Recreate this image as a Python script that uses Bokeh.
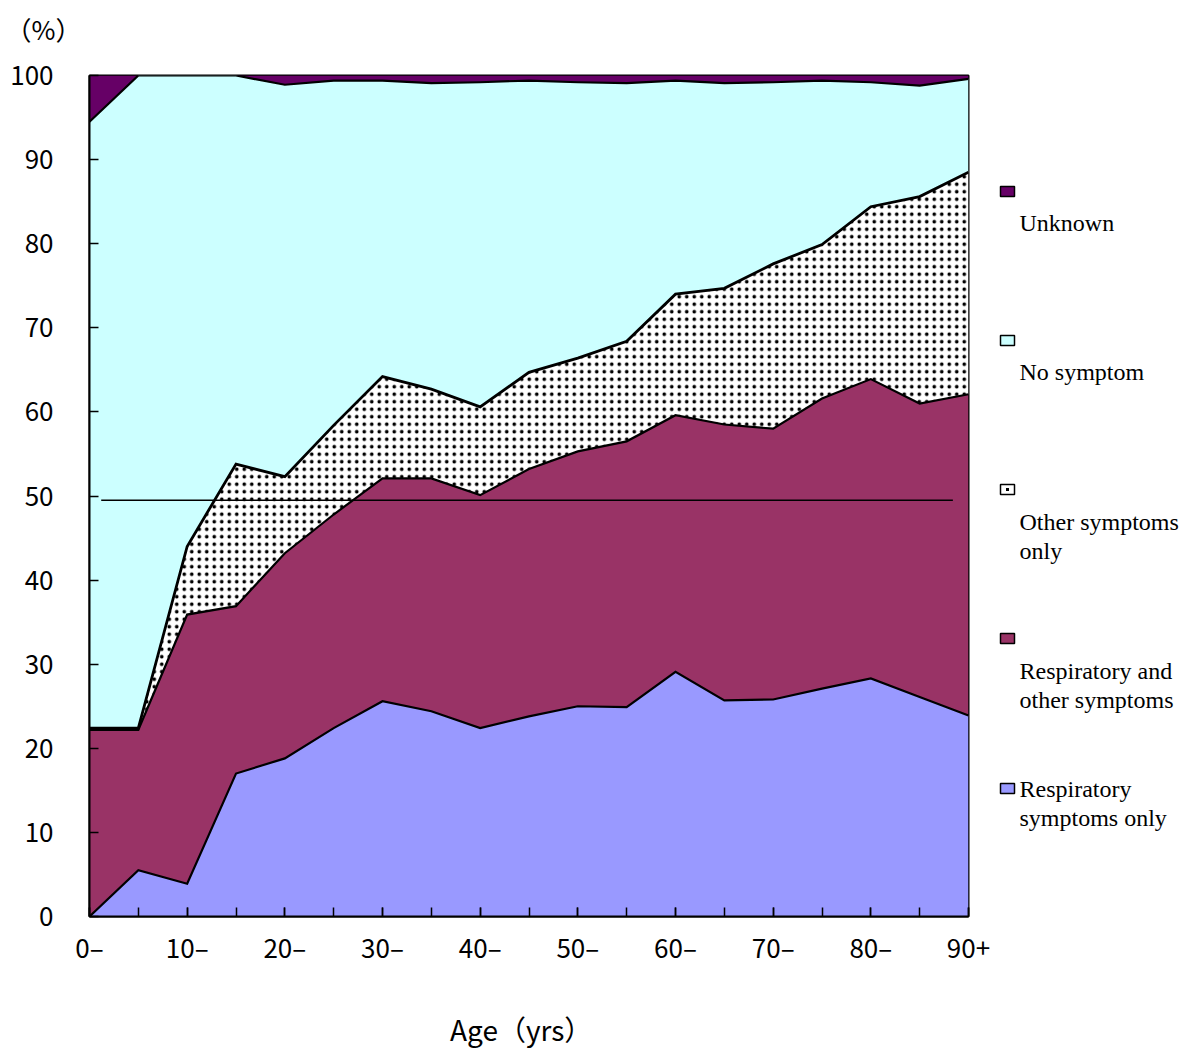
import numpy as np
from bokeh.plotting import figure
from bokeh.models import Range1d, FixedTicker, Title
from bokeh.layouts import row, column
from bokeh.embed import file_html
from bokeh.resources import INLINE
from bokeh.core.properties import value

# ---------------- data ----------------
ages = [0, 5, 10, 15, 20, 25, 30, 35, 40, 45, 50, 55, 60, 65, 70, 75, 80, 85, 90]
resp_only = [0.0, 5.5, 3.9, 17.0, 18.8, 22.4, 25.6, 24.4, 22.4, 23.8, 25.0, 24.9, 29.1, 25.7, 25.8, 27.1, 28.3, 26.1, 23.9]
resp_other = [22.2, 16.7, 32.0, 19.9, 24.4, 25.4, 26.5, 27.7, 27.7, 29.4, 30.3, 31.6, 30.5, 32.8, 32.2, 34.5, 35.6, 34.9, 38.2]
other_only = [0.2, 0.2, 8.1, 16.9, 9.1, 10.6, 12.1, 10.6, 10.5, 11.5, 11.1, 11.9, 14.4, 16.2, 19.6, 18.3, 20.5, 24.6, 26.4]
no_symptom = [72.1, 77.6, 56.0, 46.2, 46.6, 41.0, 35.2, 36.4, 38.6, 34.7, 32.8, 30.7, 25.4, 24.4, 21.6, 19.5, 14.8, 13.2, 11.1]
unknown = [5.5, 0.0, 0.0, 0.0, 1.1, 0.6, 0.6, 0.9, 0.8, 0.6, 0.8, 0.9, 0.6, 0.9, 0.8, 0.6, 0.8, 1.2, 0.4]

series_names = ["Respiratory symptoms only", "Respiratory and other symptoms",
                "Other symptoms only", "No symptom", "Unknown"]
series_colors = ["#9999FF", "#993366", "#FFFFFF", "#CCFFFF", "#660066"]

x_tick_values = [0, 10, 20, 30, 40, 50, 60, 70, 80, 90]
x_tick_labels = ["0–", "10–", "20–", "30–", "40–", "50–", "60–", "70–", "80–", "90+"]
x_minor_ticks = [0, 5, 10, 15, 20, 25, 30, 35, 40, 45, 50, 55, 60, 65, 70, 75, 80, 85, 90]
y_tick_values = [0, 10, 20, 30, 40, 50, 60, 70, 80, 90, 100]

ref_line_x = [1.2, 88.4]
ref_line_y = [49.5, 49.5]

y_unit_text = "（%）"
x_title_text = "Age（yrs）"
legend_labels = [["Unknown"], ["No symptom"], ["Other symptoms", "only"],
                 ["Respiratory and", "other symptoms"], ["Respiratory", "symptoms only"]]

# ---------------- main chart ----------------
layers = [resp_only, resp_other, other_only, no_symptom, unknown]
cum = np.cumsum(np.array(layers), axis=0)
bottoms = [np.zeros(len(ages))] + [cum[i] for i in range(len(layers) - 1)]

tick_font = "Noto Sans CJK JP"
MAIN_W, MAIN_H = 990, 1002
BL, BR, BT, BB = 89, 22, 75, 86

p = figure(width=MAIN_W, height=MAIN_H, output_backend="svg", toolbar_location=None,
           x_range=Range1d(0, 90), y_range=Range1d(0, 100),
           min_border_left=BL, min_border_right=BR, min_border_top=BT, min_border_bottom=BB)
p.background_fill_color = "white"
p.border_fill_color = "white"
p.grid.visible = False
p.outline_line_color = "black"
p.outline_line_width = 2
p.outline_line_alpha = 1

for i in range(len(layers)):
    kw = {}
    if series_names[i] == "Other symptoms only":
        kw = dict(hatch_pattern=".", hatch_color="black", hatch_scale=7.5, hatch_weight=1.5)
    p.varea(x=ages, y1=bottoms[i], y2=cum[i], fill_color=series_colors[i], **kw)

for i in range(len(layers) - 1):
    p.line(ages, cum[i], line_color="black", line_width=2.8 if i == 2 else 2.2, line_join="miter")

p.line(ref_line_x, ref_line_y, line_color="black", line_width=1.6)

for ax in p.xaxis:
    ax.ticker = FixedTicker(ticks=x_tick_values, minor_ticks=x_minor_ticks)
    ax.major_label_overrides = {v: t for v, t in zip(x_tick_values, x_tick_labels)}
for ax in p.yaxis:
    ax.ticker = FixedTicker(ticks=y_tick_values)

for ax in list(p.xaxis) + list(p.yaxis):
    ax.axis_line_color = "black"
    ax.axis_line_width = 2
    ax.major_tick_in = 9
    ax.major_tick_out = 0
    ax.minor_tick_in = 9
    ax.minor_tick_out = 0
    ax.major_tick_line_color = "black"
    ax.major_tick_line_width = 1.5
    ax.minor_tick_line_color = "black"
    ax.minor_tick_line_width = 1.5
    ax.major_label_text_font = tick_font
    ax.major_label_text_font_size = "26px"
    ax.major_label_text_color = "black"
p.xaxis.major_label_standoff = 11
p.yaxis.major_label_standoff = 36

# spacer title (closest to the frame), then the unit label above it
p.add_layout(Title(text=" ", align="left", standoff=0, vertical_align="bottom",
                   text_font=tick_font, text_font_size="19px", text_color="white"), "above")
p.add_layout(Title(text=y_unit_text, align="left", offset=-84, standoff=0,
                   vertical_align="bottom",
                   text_font=tick_font, text_font_size="26px", text_font_style="normal",
                   text_color="black"), "above")

# ---------------- x-axis title strip ----------------
xt = figure(width=MAIN_W, height=46, output_backend="svg", toolbar_location=None,
            x_range=Range1d(0, 90), y_range=Range1d(0, 46),
            x_axis_type=None, y_axis_type=None,
            min_border_left=BL, min_border_right=BR, min_border_top=0, min_border_bottom=0)
xt.outline_line_color = None
xt.grid.visible = False
xt.text(x=[44.2], y=[20], text=[x_title_text], text_font=value(tick_font),
        text_font_size="28px", text_align="center", text_baseline="middle", text_color="black")

# ---------------- legend panel ----------------
leg = figure(width=200, height=MAIN_H, output_backend="svg", toolbar_location=None,
             x_range=Range1d(990, 1190), y_range=Range1d(MAIN_H - BB, BT),
             x_axis_type=None, y_axis_type=None,
             min_border_left=0, min_border_right=0, min_border_top=BT, min_border_bottom=BB)
leg.outline_line_color = None
leg.grid.visible = False

marker_x = 1007
marker_y = [191, 340, 489, 638, 788]
first_text_y = [222, 371, 521, 670, 788]
line_gap = 29
text_x = 1019
leg_order = [4, 3, 2, 1, 0]  # Unknown first
for k, si in enumerate(leg_order):
    leg.rect(x=[marker_x], y=[marker_y[k]], width=14, height=10,
             fill_color=series_colors[si], line_color="black", line_width=1.5)
    if series_names[si] == "Other symptoms only":
        leg.scatter(x=[marker_x], y=[marker_y[k]], marker="square", size=3,
                    fill_color="black", line_color=None)
    lines = legend_labels[k]
    leg.text(x=[text_x] * len(lines), y=[first_text_y[k] + j * line_gap for j in range(len(lines))],
             text=lines, text_font=value("Liberation Serif"), text_font_size="24px",
             text_align="left", text_baseline="middle", text_color="black")

layout = row(column(p, xt), leg)
open("out.html", "w").write(file_html(layout, INLINE))
